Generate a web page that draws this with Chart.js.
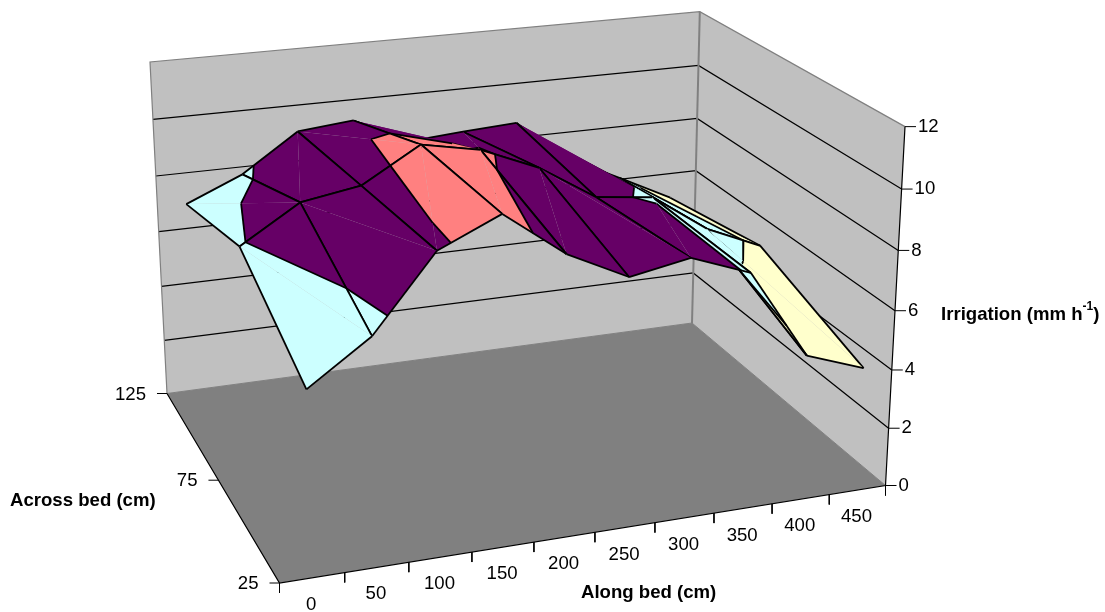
<!DOCTYPE html>
<html>
<head>
<meta charset="utf-8">
<title>Irrigation surface</title>
<script src="https://cdn.jsdelivr.net/npm/chart.js@4"></script>
<style>
    html, body { margin: 0; padding: 0; background: #fff; }
    canvas { display: block; }
</style>
</head>
<body>
<canvas id="surfaceChart" width="1105" height="612"></canvas>
<script>
// DATA
const alongBed = [0, 50, 100, 150, 200, 250, 300, 350, 400, 450];
const acrossBed = [25, 75, 125];
const irrigationTicks = [0, 2, 4, 6, 8, 10, 12];

const across25 = [6.05, 7.43, 9.81, 10.7, 9.22, 8.25, 8.61, 7.88, 4.9, 4.2];
const across75 = [7.88, 9.11, 9.44, 10.59, 10.2, 9.38, 8.15, 7.92, 6.58, 5.73];
const across125 = [6.88, 7.73, 9.06, 9.25, 8.28, 8.43, 8.55, 7.0, 6.05, 5.07];

// which way each mesh cell is split, A = far left to near right, B = far right to near left
const splitsNear = ["A", "A", "B", "B", "B", "A", "B", "B", "A"];
const splitsFar = ["A", "B", "A", "A", "B", "A", "A", "A", "A"];

const bandColors = ["#9999FF", "#993366", "#FFFFCC", "#CCFFFF", "#660066", "#FF8080"];

// CAMERA, maps the unit box (along, across, height) onto the page
const cam = [
    [681.75, -81.47, -28.37, 279.5],
    [-55.97, -116.38, -396.49, 583],
    [0.08554, 0.18581, -0.05473, 1]
];

function project(u, v, w) {
    const d = cam[2][0] * u + cam[2][1] * v + cam[2][2] * w + cam[2][3];
    return {
        x: (cam[0][0] * u + cam[0][1] * v + cam[0][2] * w + cam[0][3]) / d,
        y: (cam[1][0] * u + cam[1][1] * v + cam[1][2] * w + cam[1][3]) / d
    };
}

const maxIrrigation = irrigationTicks[irrigationTicks.length - 1];
const datasets = [];

function addPoly(points, color) {
    datasets.push({
        data: points, showLine: true, fill: "shape", backgroundColor: color,
        borderWidth: 0, pointRadius: 0, tension: 0
    });
}

function addLine(points, color, width) {
    datasets.push({
        data: points, showLine: true, fill: false, borderColor: color,
        borderWidth: width, pointRadius: 0, tension: 0
    });
}

// WALLS AND FLOOR
addPoly([project(0, 1, 0), project(1, 1, 0), project(1, 1, 1), project(0, 1, 1)], "#C0C0C0");
addPoly([project(1, 1, 0), project(1, 0, 0), project(1, 0, 1), project(1, 1, 1)], "#C0C0C0");
addPoly([project(0, 0, 0), project(1, 0, 0), project(1, 1, 0), project(0, 1, 0)], "#808080");

irrigationTicks.forEach(t => {
    if (t === 0 || t === maxIrrigation) return;
    const w = t / maxIrrigation;
    addLine([project(0, 1, w), project(1, 1, w), project(1, 0, w)], "#000", 1.2);
});

addLine([project(0, 1, 0), project(0, 1, 1), project(1, 1, 1), project(1, 0, 1)], "#808080", 1.2);
addLine([project(1, 1, 1), project(1, 1, 0)], "#808080", 2);
addLine([project(0, 1, 0), project(1, 1, 0), project(1, 0, 0)], "#808080", 1);

// AXIS LINES AND TICKS
addLine([project(0, 1, 0), project(0, 0, 0), project(1, 0, 0), project(1, 0, 1)], "#000", 1.2);

for (let i = 0; i <= alongBed.length; i++) {
    const p = project(i / alongBed.length, 0, 0);
    addLine([p, { x: p.x, y: p.y + 10 }], "#000", 1);
}
acrossBed.forEach((a, i) => {
    const p = project(0, i / (acrossBed.length - 1), 0);
    addLine([p, { x: p.x - 10, y: p.y }], "#000", 1);
});
irrigationTicks.forEach(t => {
    const p = project(1, 0, t / maxIrrigation);
    addLine([p, { x: p.x + 11, y: p.y }], "#000", 1);
});

// SURFACE
function meshPoint(col, row, rows) {
    return {
        u: (col + 0.5) / alongBed.length,
        v: row / (rows.length - 1),
        val: rows[row][col]
    };
}

function mix(a, b, level) {
    const t = (level - a.val) / (b.val - a.val);
    return {
        u: a.u + (b.u - a.u) * t,
        v: a.v + (b.v - a.v) * t,
        val: level
    };
}

function toPage(p) {
    return project(p.u, p.v, p.val / maxIrrigation);
}

// keep the part of a polygon on one side of a level
function clip(poly, level, keepAbove) {
    const out = [];
    poly.forEach((p, i) => {
        const q = poly[(i + 1) % poly.length];
        const pIn = keepAbove ? p.val >= level : p.val <= level;
        const qIn = keepAbove ? q.val >= level : q.val <= level;
        if (pIn) out.push(p);
        if (pIn !== qIn) out.push(mix(p, q, level));
    });
    return out;
}

// edges lists the triangle sides that are mesh lines, the split diagonal is left out
function addTriangle(tri, edges) {
    bandColors.forEach((color, b) => {
        const lo = b * 2;
        const hi = lo + 2;
        let poly = clip(tri, lo, true);
        if (poly.length) poly = clip(poly, hi, false);
        if (poly.length > 2) addPoly(poly.map(toPage), color);
    });

    edges.forEach(e => {
        addLine([toPage(tri[e[0]]), toPage(tri[e[1]])], "#000", 1.8);
    });

    // contour lines between the colour bands
    bandColors.forEach((color, b) => {
        const level = b * 2;
        if (level === 0) return;
        const cuts = [];
        tri.forEach((p, i) => {
            const q = tri[(i + 1) % 3];
            if ((p.val < level) !== (q.val < level)) cuts.push(mix(p, q, level));
        });
        if (cuts.length === 2) addLine(cuts.map(toPage), "#000", 1.8);
    });
}

function addCell(col, farRow, split, rows) {
    const farL = meshPoint(col, farRow, rows);
    const farR = meshPoint(col + 1, farRow, rows);
    const nearL = meshPoint(col, farRow - 1, rows);
    const nearR = meshPoint(col + 1, farRow - 1, rows);
    if (split === "A") {
        addTriangle([farL, farR, nearR], [[0, 1], [1, 2]]);
        addTriangle([farL, nearR, nearL], [[1, 2], [2, 0]]);
    } else {
        addTriangle([farR, nearR, nearL], [[0, 1], [1, 2]]);
        addTriangle([farL, farR, nearL], [[0, 1], [2, 0]]);
    }
}

const rows = [across25, across75, across125];
for (let col = alongBed.length - 2; col >= 0; col--) addCell(col, 2, splitsFar[col], rows);
for (let col = alongBed.length - 2; col >= 0; col--) addCell(col, 1, splitsNear[col], rows);

// TEXT
const numberFont = "18.6px 'Liberation Sans', Arial, sans-serif";
const titleFont = "bold 18.6px 'Liberation Sans', Arial, sans-serif";

const axisText = {
    id: "axisText",
    afterDraw(chart) {
        const ctx = chart.ctx;
        ctx.save();
        ctx.fillStyle = "#000";
        ctx.textBaseline = "middle";

        ctx.font = numberFont;
        ctx.textAlign = "center";
        alongBed.forEach((a, i) => {
            const p = project((i + 0.5) / alongBed.length, 0, 0);
            ctx.fillText(String(a), p.x - 1, p.y + 27);
        });
        ctx.textAlign = "right";
        acrossBed.forEach((a, i) => {
            const p = project(0, i / (acrossBed.length - 1), 0);
            ctx.fillText(String(a), p.x - 21, p.y + 1);
        });
        ctx.textAlign = "left";
        irrigationTicks.forEach(t => {
            const p = project(1, 0, t / maxIrrigation);
            ctx.fillText(String(t), p.x + 13, p.y);
        });

        ctx.font = titleFont;
        ctx.fillText("Across bed (cm)", 10, 501);
        ctx.fillText("Along bed (cm)", 581, 593);
        ctx.fillText("Irrigation (mm h", 941, 315);
        const w = ctx.measureText("Irrigation (mm h").width;
        ctx.font = "bold 12px 'Liberation Sans', Arial, sans-serif";
        ctx.fillText("-1", 941 + w, 307);
        const w2 = ctx.measureText("-1").width;
        ctx.font = titleFont;
        ctx.fillText(")", 941 + w + w2, 315);
        ctx.restore();
    }
};

// first dataset is drawn on top, so put the back of the picture last
datasets.reverse();

new Chart(document.getElementById("surfaceChart"), {
    type: "scatter",
    data: { datasets: datasets },
    plugins: [axisText],
    options: {
        responsive: false,
        animation: false,
        layout: { padding: 0 },
        plugins: {
            legend: { display: false },
            tooltip: { enabled: false },
            filler: { propagate: false }
        },
        scales: {
            x: { type: "linear", display: false, min: 0, max: 1105 },
            y: { type: "linear", display: false, min: 0, max: 612, reverse: true }
        }
    }
});
</script>
</body>
</html>
